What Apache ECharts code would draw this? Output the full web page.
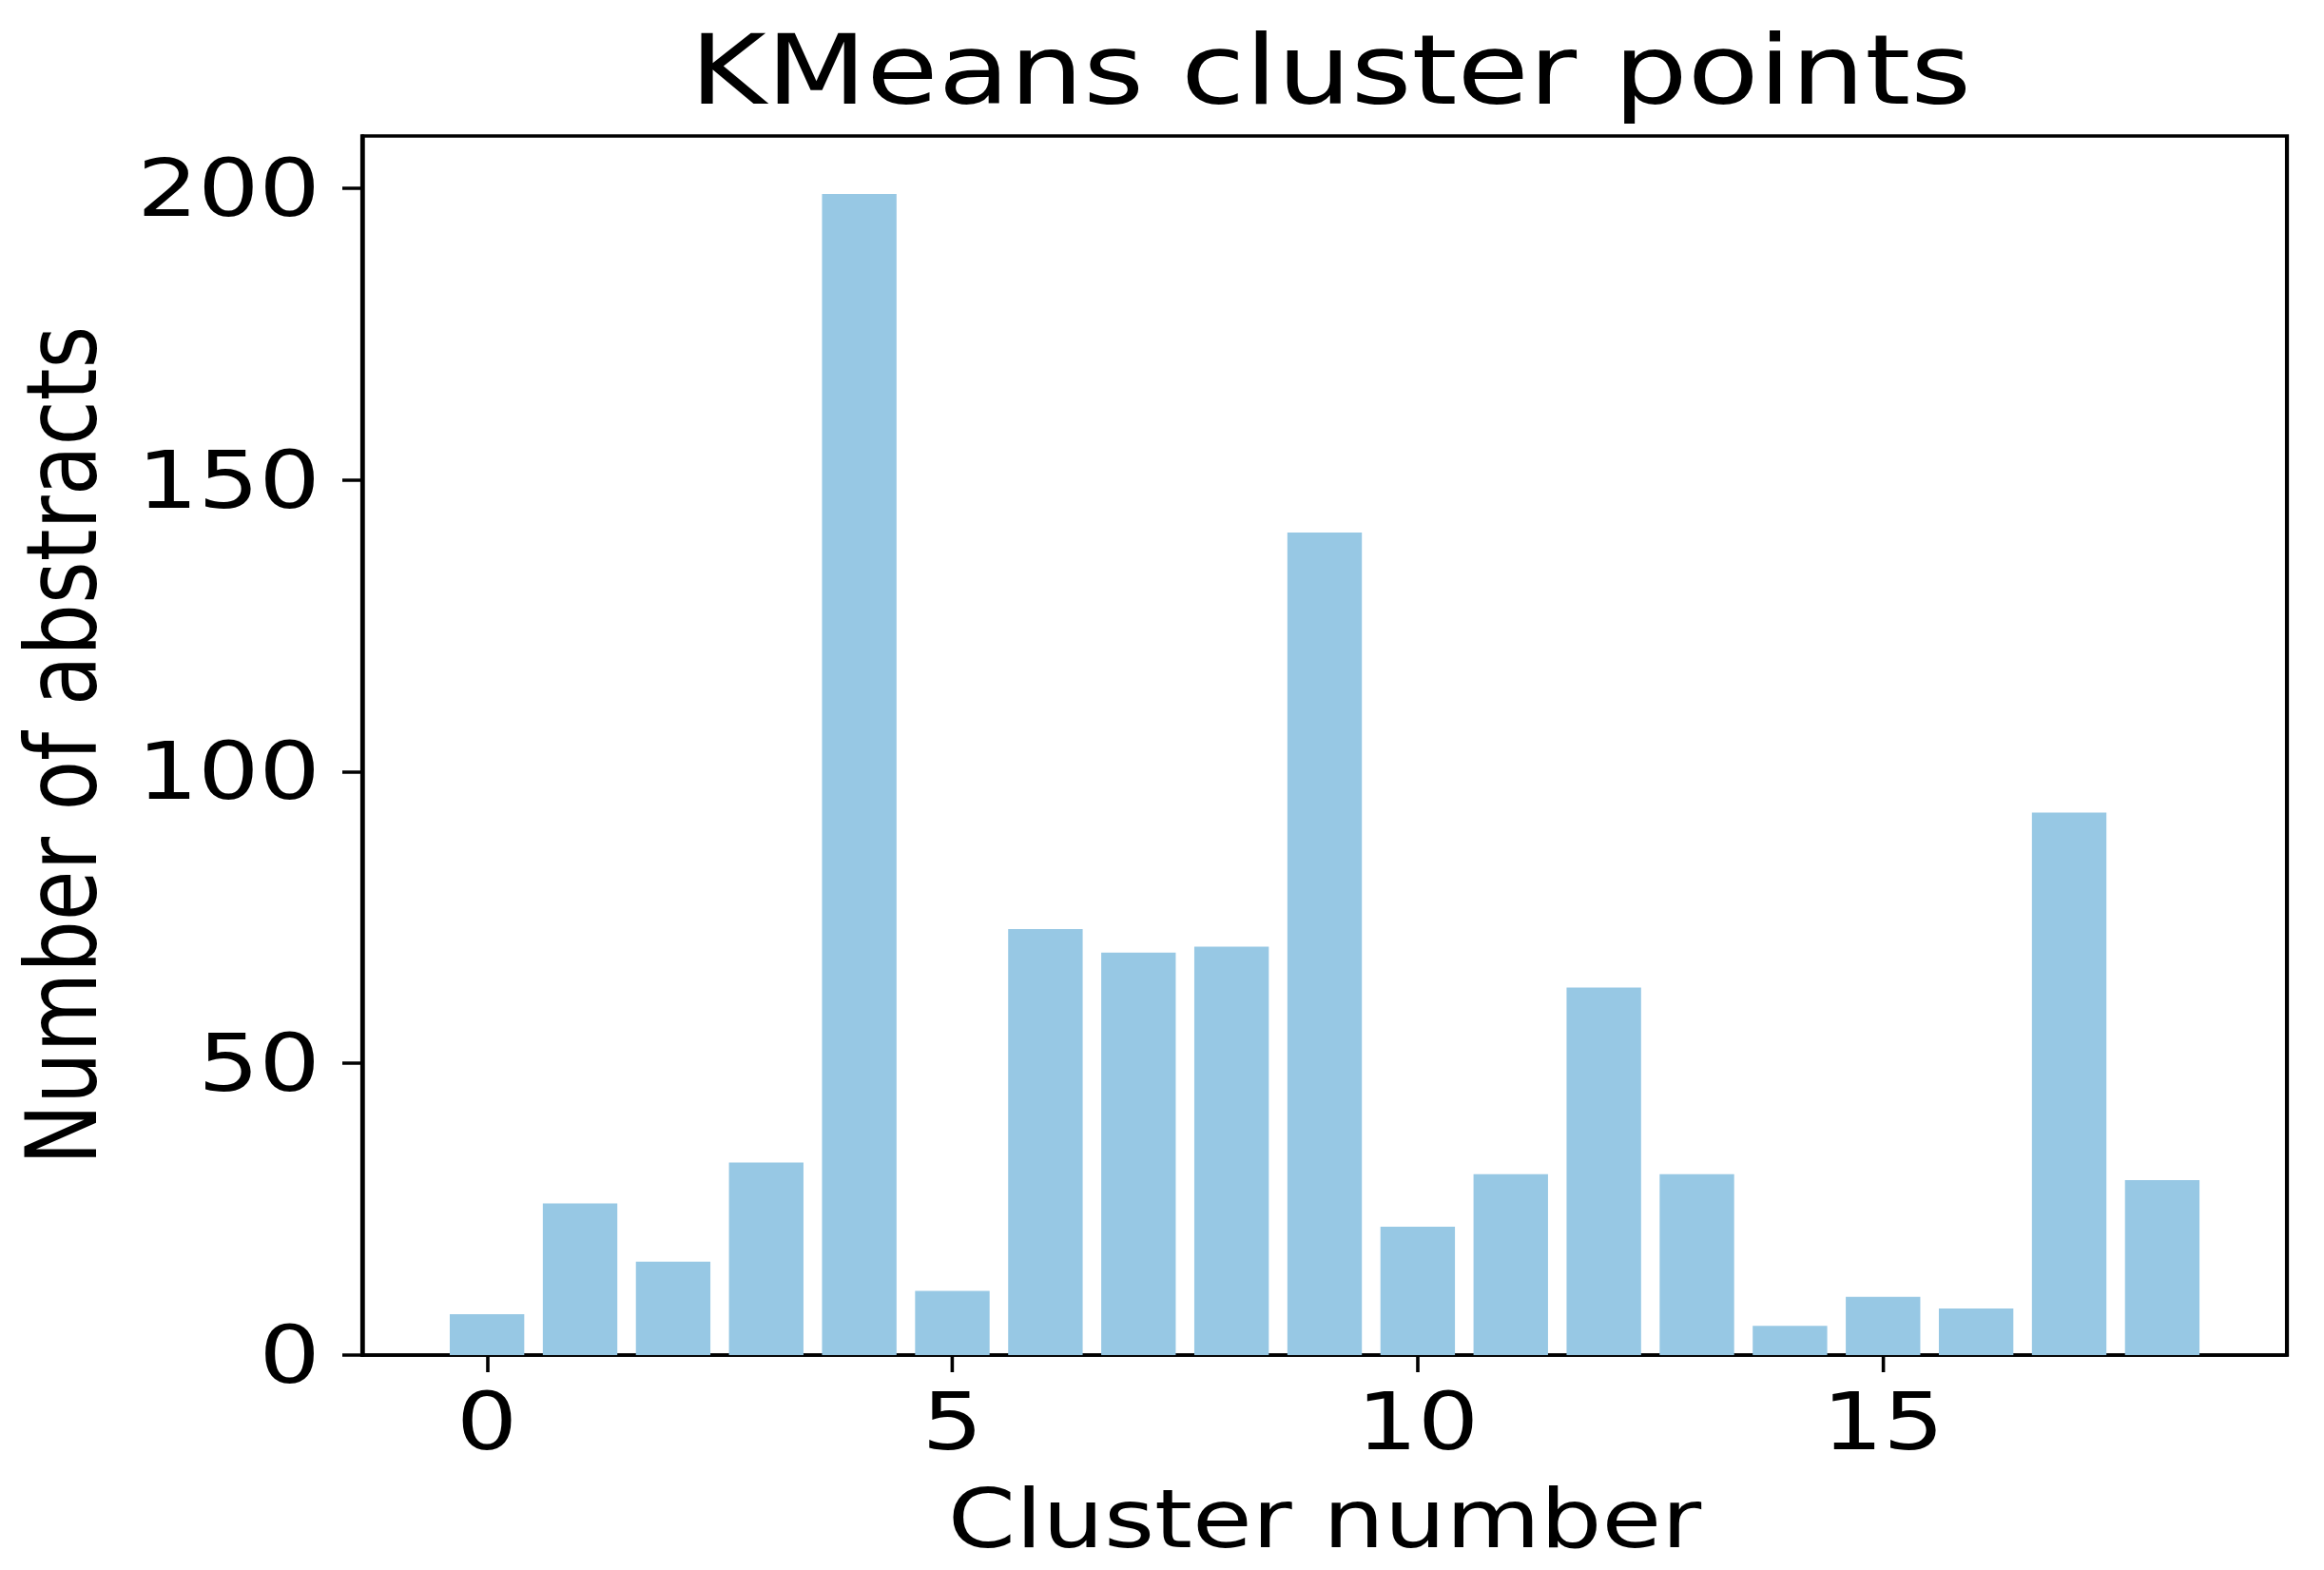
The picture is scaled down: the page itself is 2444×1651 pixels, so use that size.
<!DOCTYPE html>
<html>
<head>
<meta charset="utf-8">
<script src="https://cdn.jsdelivr.net/npm/echarts@6/dist/echarts.min.js"></script>
<style>
  html, body { margin: 0; padding: 0; background: #fff; overflow: hidden; }
  #chart { width: 2037px; height: 1651px; transform: scaleX(1.2); transform-origin: 0 0; }
</style>
</head>
<body>
<div id="chart"></div>
<script>
// ---- data ----
const titleText = 'KMeans cluster points';
const xAxisTitle = 'Cluster number';
const yAxisTitle = 'Number of abstracts';
const clusters = [0, 1, 2, 3, 4, 5, 6, 7, 8, 9, 10, 11, 12, 13, 14, 15, 16, 17, 18];
const counts   = [7, 26, 16, 33, 199, 11, 73, 69, 70, 141, 22, 31, 63, 31, 5, 10, 8, 93, 30];
const xTicks = [0, 5, 10, 15];
const yTicks = [0, 50, 100, 150, 200];

const FONT = 'DejaVu Sans';
const chart = echarts.init(document.getElementById('chart'), null, { renderer: 'svg' });

chart.setOption({
  backgroundColor: '#ffffff',
  animation: false,
  title: {
    text: titleText,
    left: 1161,
    top: 18,
    textAlign: 'center',
    textStyle: { fontFamily: FONT, fontSize: 102, fontWeight: 'normal', color: '#000' }
  },
  grid: {
    left: 317.5, right: 32.8, top: 143, bottom: 226,
    show: true, borderColor: '#000', borderWidth: 3.5, backgroundColor: 'transparent'
  },
  xAxis: {
    type: 'value',
    min: -1.34, max: 19.34,
    name: xAxisTitle,
    nameLocation: 'middle',
    nameGap: 130,
    nameTextStyle: { fontFamily: FONT, fontSize: 85, color: '#000' },
    axisLine: { show: true, onZero: false, lineStyle: { color: '#000', width: 3.5 } },
    axisTick: { show: true, length: 18, customValues: xTicks, lineStyle: { color: '#000', width: 3 } },
    axisLabel: { customValues: xTicks, margin: 28, fontFamily: FONT, fontSize: 84, color: '#000' },
    splitLine: { show: false }
  },
  yAxis: {
    type: 'value',
    min: 0, max: 208.95,
    name: yAxisTitle,
    nameLocation: 'middle',
    nameGap: 220,
    nameTextStyle: { fontFamily: FONT, fontSize: 86, color: '#000' },
    axisLine: { show: true, onZero: false, lineStyle: { color: '#000', width: 3.5 } },
    axisTick: { show: true, length: 17.5, customValues: yTicks, lineStyle: { color: '#000', width: 3.5 } },
    axisLabel: { customValues: yTicks, margin: 37, fontFamily: FONT, fontSize: 84, color: '#000' },
    splitLine: { show: false }
  },
  series: [{
    type: 'bar',
    data: clusters.map((c, i) => [c, counts[i]]),
    barWidth: 65.3,
    itemStyle: { color: '#97c8e4' },
    z: 1
  }]
});
</script>
</body>
</html>
